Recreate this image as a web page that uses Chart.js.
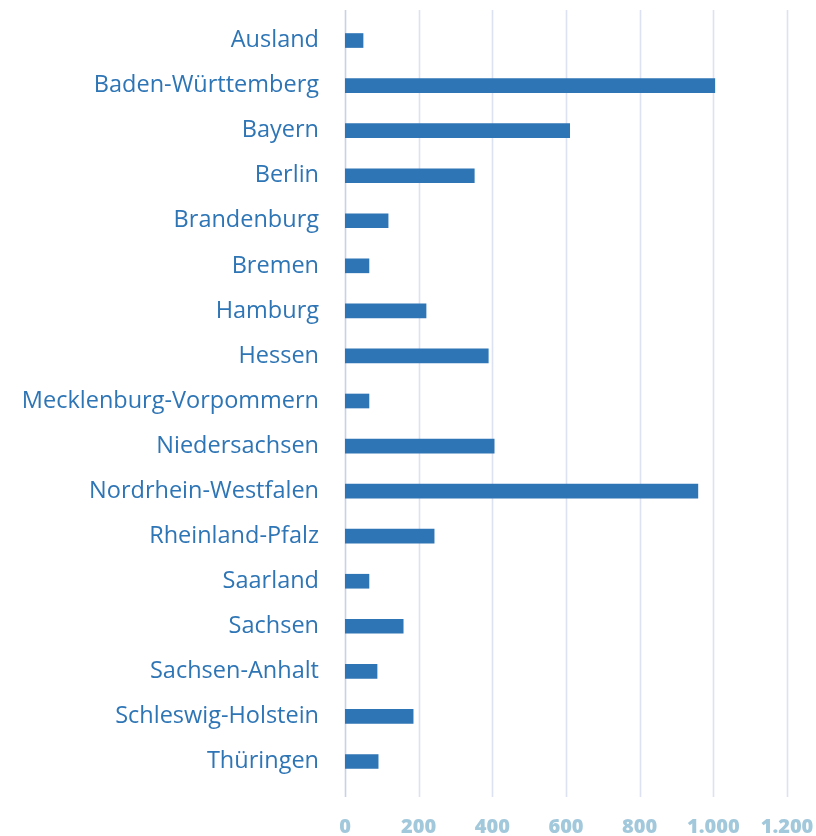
<!DOCTYPE html>
<html>
<head>
<meta charset="utf-8">
<script src="https://cdn.jsdelivr.net/npm/chart.js@4/dist/chart.umd.min.js"></script>
<style>
  html, body { margin: 0; padding: 0; background: #ffffff; }
  #wrap { width: 816px; height: 836px; }
</style>
</head>
<body>
<div id="wrap"><canvas id="c" width="816" height="836"></canvas></div>
<script>
const categories = [
  "Ausland", "Baden-Württemberg", "Bayern", "Berlin", "Brandenburg", "Bremen",
  "Hamburg", "Hessen", "Mecklenburg-Vorpommern", "Niedersachsen",
  "Nordrhein-Westfalen", "Rheinland-Pfalz", "Saarland", "Sachsen",
  "Sachsen-Anhalt", "Schleswig-Holstein", "Thüringen"
];
const values = [49, 1004, 610, 351, 117, 65, 220, 389, 65, 405, 958, 242, 65, 158, 87, 185, 90];
const xTickValues = [0, 200, 400, 600, 800, 1000, 1200];
const xTickLabels = ["0", "200", "400", "600", "800", "1.000", "1.200"];

const gridPlugin = {
  id: 'fullGrid',
  beforeDatasetsDraw(chart) {
    const ctx = chart.ctx;
    const xs = chart.scales.x;
    ctx.save();
    xTickValues.forEach((v, i) => {
      const px = Math.round(xs.getPixelForValue(v)) + 0.5;
      ctx.strokeStyle = i === 0 ? '#c9d1e8' : '#dce2f2';
      ctx.lineWidth = 1.6;
      ctx.beginPath();
      ctx.moveTo(px, 10);
      ctx.lineTo(px, 797);
      ctx.stroke();
    });
    ctx.restore();
  }
};

new Chart(document.getElementById('c'), {
  type: 'bar',
  data: {
    labels: categories,
    datasets: [{
      data: values,
      backgroundColor: '#2e75b6',
      borderWidth: 0,
      barThickness: 14
    }]
  },
  plugins: [gridPlugin],
  options: {
    indexAxis: 'y',
    responsive: false,
    animation: false,
    devicePixelRatio: 1,
    layout: { padding: { top: 18, right: 29, left: 0, bottom: 0 } },
    plugins: { legend: { display: false }, tooltip: { enabled: false } },
    scales: {
      x: {
        type: 'linear',
        min: 0,
        max: 1200,
        afterFit(scale) {
          scale.height = 52;
          scale.paddingLeft = 0; scale.paddingRight = 0;
          scale.paddingTop = 0; scale.paddingBottom = 0;
        },
        afterBuildTicks(scale) { scale.ticks = xTickValues.map(v => ({ value: v })); },
        grid: { display: false },
        border: { display: false },
        ticks: {
          padding: 23,
          color: '#a2c8dc',
          font: { family: 'Open Sans', size: 20, weight: '800' },
          callback: (v) => xTickLabels[xTickValues.indexOf(v)]
        }
      },
      y: {
        offset: true,
        afterFit(scale) {
          scale.width = 345;
          scale.paddingLeft = 0; scale.paddingRight = 0;
          scale.paddingTop = 0; scale.paddingBottom = 0;
        },
        grid: { display: false },
        border: { display: false },
        ticks: {
          padding: 18,
          color: '#2e75b6',
          font: { family: 'Open Sans', size: 23.5, weight: '400' }
        }
      }
    }
  }
});
</script>
</body>
</html>
